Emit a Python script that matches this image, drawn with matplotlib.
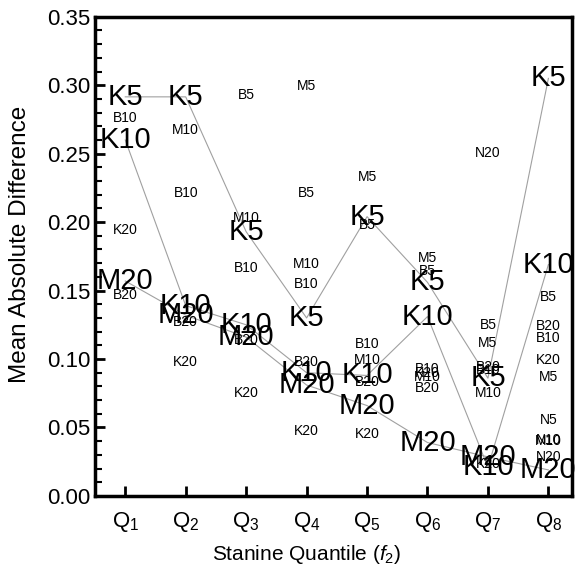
import matplotlib
matplotlib.use("Agg")
import matplotlib.pyplot as plt
import numpy as np

plt.rcParams['font.family'] = ['Liberation Sans', 'DejaVu Sans']
plt.rcParams['mathtext.fontset'] = 'custom'
plt.rcParams['mathtext.rm'] = 'Liberation Sans'
plt.rcParams['mathtext.it'] = 'Liberation Sans:italic'

quantiles = ['Q$_1$', 'Q$_2$', 'Q$_3$', 'Q$_4$', 'Q$_5$', 'Q$_6$', 'Q$_7$', 'Q$_8$']

# big labels, joined by lines
k5 = [0.2915, 0.2915, 0.193, 0.130, 0.204, 0.156, 0.086, 0.305]
k10 = [0.260, 0.139, 0.125, 0.090, 0.088, 0.131, 0.021, 0.169]
m20 = [0.157, 0.132, 0.116, 0.081, 0.066, 0.039, 0.0285, 0.019]

# small labels (None = not shown)
b5 = [None, None, 0.293, 0.221, 0.198, 0.164, 0.125, 0.145]
b10 = [0.276, 0.221, 0.1665, 0.155, 0.111, 0.093, 0.092, 0.1155]
b20 = [0.147, 0.127, 0.114, 0.098, 0.083, 0.079, 0.094, 0.124]
m5 = [None, None, None, 0.2995, 0.233, 0.174, 0.112, 0.087]
m10 = [None, 0.267, 0.203, 0.1695, 0.099, 0.087, 0.075, 0.040]
k20 = [0.194, 0.098, 0.075, 0.0475, 0.045, 0.090, 0.023, 0.099]
n5 = [None, None, None, None, None, None, None, 0.0555]
n10 = [None, None, None, None, None, None, None, 0.041]
n20 = [None, None, None, None, None, None, 0.2505, 0.0285]

big = {'K5': k5, 'K10': k10, 'M20': m20}
small = {'B5': b5, 'B10': b10, 'B20': b20, 'M5': m5, 'M10': m10,
         'K20': k20, 'N5': n5, 'N10': n10, 'N20': n20}

fig = plt.figure(figsize=(5.76, 5.78), dpi=100)
ax = fig.add_axes([0.165, 0.142, 0.828, 0.829])

x = np.arange(1, len(quantiles) + 1)

for name, vals in big.items():
    ax.plot(x, vals, color='#a0a0a0', lw=0.8, zorder=1)
    for xi, v in zip(x, vals):
        ax.text(xi, v, name, ha='center', va='center', fontsize=21, zorder=3)

for name, vals in small.items():
    for xi, v in zip(x, vals):
        if v is None:
            continue
        ax.text(xi, v, name, ha='center', va='center', fontsize=10, zorder=2)

ax.set_xlim(0.5, 8.39)
ax.set_ylim(0, 0.35)
ax.set_xticks(x)
ax.set_xticklabels(quantiles, fontsize=16)
yt = np.arange(0, 0.351, 0.05)
ax.set_yticks(yt)
ax.set_yticklabels(['%.2f' % t for t in yt], fontsize=16)
ax.set_yticks(np.arange(0, 0.351, 0.01), minor=True)
ax.tick_params(axis='both', direction='in', width=2, length=7)
ax.tick_params(axis='y', which='minor', direction='in', width=1.5, length=5)
ax.tick_params(axis='x', pad=10)
ax.tick_params(axis='y', pad=3)

for s in ax.spines.values():
    s.set_linewidth(2.5)

ax.set_xlabel('Stanine Quantile ($f_2$)', fontsize=15)
ax.xaxis.set_label_coords(0.444, -0.098)
ax.set_ylabel('Mean Absolute Difference', fontsize=17.5)
ax.yaxis.set_label_coords(-0.134, 0.524)

fig.savefig('out.png', dpi=100)
